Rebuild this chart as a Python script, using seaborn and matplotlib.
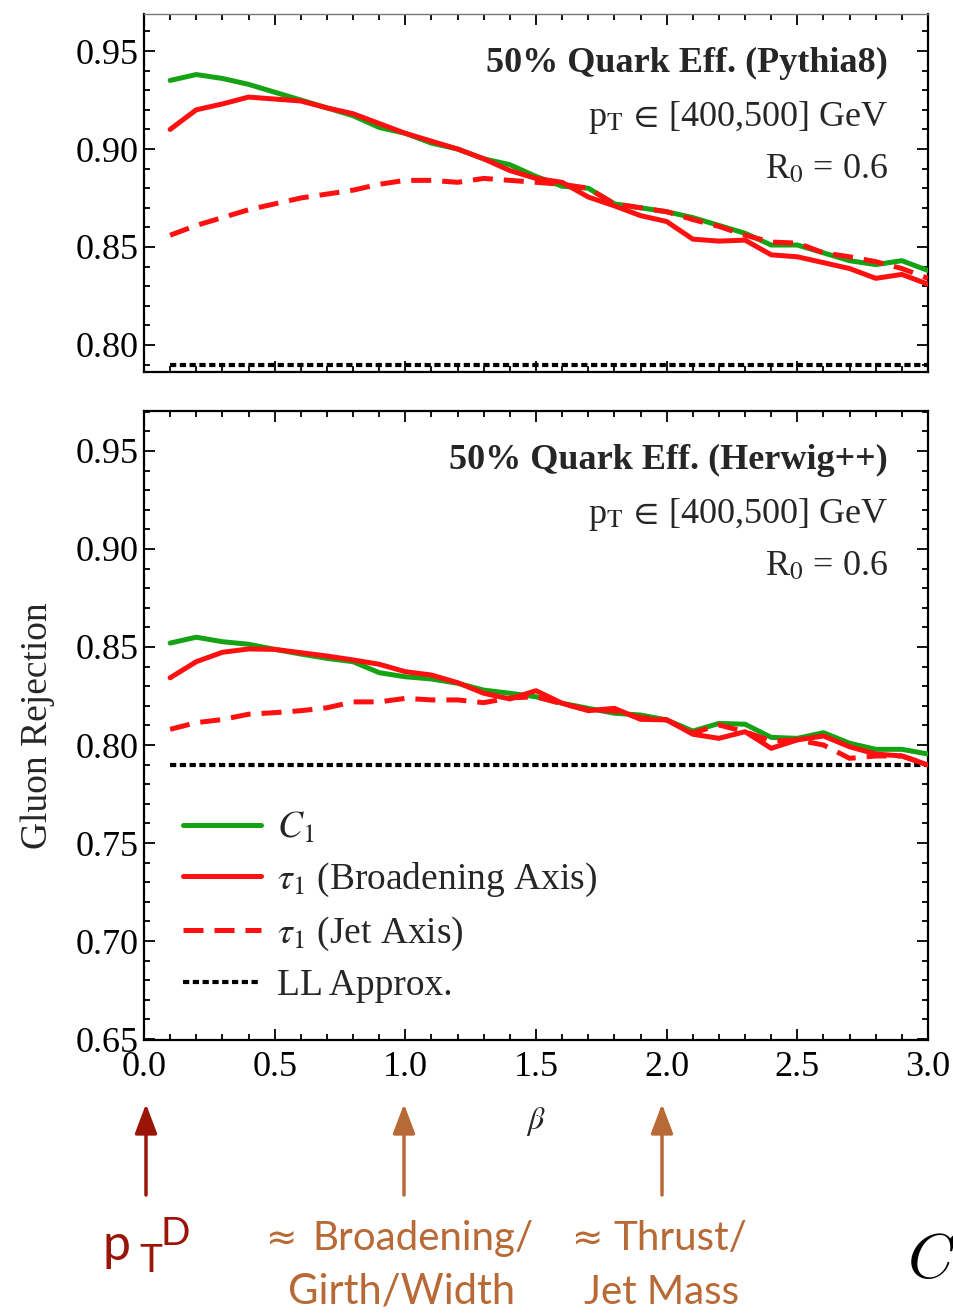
import numpy as np
import pandas as pd
import matplotlib
matplotlib.use("Agg")
import matplotlib.pyplot as plt
from matplotlib.patches import FancyArrowPatch
from matplotlib.ticker import MultipleLocator, FormatStrFormatter
import seaborn as sns

# ---------------------------------------------------------------- data
beta = [0.1, 0.2, 0.3, 0.4, 0.5, 0.6, 0.7, 0.8, 0.9, 1.0,
        1.1, 1.2, 1.3, 1.4, 1.5, 1.6, 1.7, 1.8, 1.9, 2.0,
        2.1, 2.2, 2.3, 2.4, 2.5, 2.6, 2.7, 2.8, 2.9, 3.0]

# Pythia8
c1_pythia = [0.935, 0.938, 0.936, 0.933, 0.929, 0.925, 0.921, 0.917, 0.911, 0.908,
             0.903, 0.900, 0.895, 0.892, 0.886, 0.881, 0.880, 0.872, 0.870, 0.868,
             0.865, 0.861, 0.857, 0.851, 0.851, 0.847, 0.843, 0.841, 0.843, 0.838]
tau_bro_pythia = [0.910, 0.920, 0.923, 0.9265, 0.9255, 0.9245, 0.921, 0.918, 0.913, 0.908,
                  0.904, 0.900, 0.895, 0.889, 0.885, 0.883, 0.8755, 0.871, 0.866, 0.863,
                  0.854, 0.853, 0.8535, 0.846, 0.845, 0.842, 0.839, 0.834, 0.836, 0.831]
tau_jet_pythia = [0.856, 0.861, 0.865, 0.869, 0.872, 0.875, 0.877, 0.879, 0.882, 0.884,
                  0.884, 0.883, 0.885, 0.884, 0.883, 0.882, 0.880, 0.872, 0.870, 0.868,
                  0.864, 0.8605, 0.856, 0.8525, 0.852, 0.847, 0.845, 0.8425, 0.839, 0.834]

# Herwig++
c1_herwig = [0.852, 0.855, 0.8527, 0.8514, 0.8488, 0.8464, 0.8442, 0.8425, 0.8369, 0.8348,
             0.8337, 0.8315, 0.828, 0.8264, 0.8246, 0.8213, 0.8187, 0.8162, 0.8153, 0.8128,
             0.8071, 0.811, 0.8106, 0.8039, 0.8034, 0.8063, 0.8009, 0.7978, 0.7978, 0.7954]
tau_bro_herwig = [0.8343, 0.8425, 0.8473, 0.849, 0.8488, 0.8471, 0.8454, 0.8434, 0.8412, 0.8374,
                  0.8357, 0.8318, 0.8264, 0.8235, 0.8277, 0.8213, 0.8175, 0.8187, 0.8131, 0.8128,
                  0.8055, 0.8034, 0.8068, 0.7983, 0.8026, 0.8046, 0.7991, 0.7954, 0.7944, 0.7898]
tau_jet_herwig = [0.808, 0.8114, 0.813, 0.8157, 0.8165, 0.8175, 0.819, 0.822, 0.822, 0.8238,
                  0.823, 0.823, 0.8216, 0.824, 0.8246, 0.821, 0.818, 0.8174, 0.814, 0.8128,
                  0.8061, 0.8102, 0.8068, 0.802, 0.8026, 0.800, 0.7932, 0.7944, 0.7944, 0.790]

ll_approx = 0.79

series_labels = [r"$C_1$", r"$\tau_1$ (Broadening Axis)", r"$\tau_1$ (Jet Axis)", "LL Approx."]
panel_titles = ["50% Quark Eff. (Pythia8)", "50% Quark Eff. (Herwig++)"]
pt_label = r"p$_\mathrm{T}$ $\!\in\!$ [400,500] GeV"
r0_label = r"R$_0$ = 0.6"
x_ticks = [0.0, 0.5, 1.0, 1.5, 2.0, 2.5, 3.0]
y_ticks_top = [0.80, 0.85, 0.90, 0.95]
y_ticks_bottom = [0.65, 0.70, 0.75, 0.80, 0.85, 0.90, 0.95]

# ---------------------------------------------------------------- style
sns.set_style("ticks")
plt.rcParams["font.family"] = ["Liberation Serif", "DejaVu Serif"]
plt.rcParams["mathtext.fontset"] = "stix"

GREEN = "#15a215"
RED = "#ff1010"
DARKRED = "#9a1408"
ORANGE = "#b86a36"
TICK_SIZE = 26
TEXT_SIZE = 26

W, H = 954, 1315
fig = plt.figure(figsize=(W / 100, H / 100), dpi=100)


def fig_axes(left, top, right, bottom):
    return fig.add_axes([left / W, 1 - bottom / H, (right - left) / W, (bottom - top) / H])


ax_top = fig_axes(144, 14, 928, 372)
ax_bot = fig_axes(144, 411, 928, 1040)


def draw_panel(ax, c1, tbro, tjet):
    df = pd.DataFrame({"beta": beta, "c1": c1, "tbro": tbro, "tjet": tjet,
                       "ll": [ll_approx] * len(beta)})
    sns.lineplot(data=df, x="beta", y="ll", ax=ax, color="black", lw=3.0,
                 linestyle=(0, (1.5, 0.85)), label=series_labels[3], zorder=2)
    sns.lineplot(data=df, x="beta", y="c1", ax=ax, color=GREEN, lw=3.6,
                 label=series_labels[0], zorder=3)
    sns.lineplot(data=df, x="beta", y="tbro", ax=ax, color=RED, lw=3.6,
                 label=series_labels[1], zorder=4)
    sns.lineplot(data=df, x="beta", y="tjet", ax=ax, color=RED, lw=3.6,
                 linestyle=(0, (4, 2.2)), label=series_labels[2], zorder=4)
    ax.set_xlim(0, 3)
    ax.xaxis.set_major_locator(MultipleLocator(0.5))
    ax.xaxis.set_minor_locator(MultipleLocator(0.1))
    ax.yaxis.set_major_locator(MultipleLocator(0.05))
    ax.yaxis.set_minor_locator(MultipleLocator(0.01))
    ax.yaxis.set_major_formatter(FormatStrFormatter("%.2f"))
    ax.xaxis.set_major_formatter(FormatStrFormatter("%.1f"))
    ax.tick_params(which="both", direction="in", top=True, right=True,
                   labelsize=TICK_SIZE, width=1.3, colors="black")
    ax.tick_params(which="major", length=8, pad=4)
    ax.tick_params(which="minor", length=4.3)
    for s in ax.spines.values():
        s.set_linewidth(1.6)
        s.set_color("black")
    ax.set_xlabel("")
    ax.set_ylabel("")


draw_panel(ax_top, c1_pythia, tau_bro_pythia, tau_jet_pythia)
draw_panel(ax_bot, c1_herwig, tau_bro_herwig, tau_jet_herwig)

ax_top.set_ylim(0.7862, 0.9689)
ax_top.set_yticks(y_ticks_top)
ax_top.yaxis.set_minor_locator(MultipleLocator(0.01))
ax_top.tick_params(labelbottom=False)
ax_top.get_legend().remove()
ax_top.spines["top"].set_color("#777777")
ax_top.spines["top"].set_linewidth(1.0)

ax_bot.set_ylim(0.6495, 0.9704)
ax_bot.set_yticks(y_ticks_bottom)
ax_bot.yaxis.set_minor_locator(MultipleLocator(0.01))
ax_bot.set_xticks(x_ticks)
ax_bot.tick_params(axis="x", which="major", pad=8)

ax_bot.set_ylabel("Gluon Rejection", fontsize=27)
ax_bot.yaxis.set_label_coords(-0.1136, 0.5)
ax_bot.set_xlabel(r"$\beta$", fontsize=23)
ax_bot.xaxis.set_label_coords(0.5, -0.104)

# legend in the order of the series list
handles, labels = ax_bot.get_legend_handles_labels()
order = [labels.index(l) for l in series_labels]
ax_bot.get_legend().remove()
ax_bot.legend([handles[i] for i in order], [labels[i] for i in order],
              loc="upper left", bbox_to_anchor=(0.05, 0.3645), frameon=False,
              fontsize=27, handlelength=2.08, handletextpad=0.42,
              labelspacing=0.41, borderaxespad=0, borderpad=0)

# panel annotations
for ax, title in [(ax_top, panel_titles[0]), (ax_bot, panel_titles[1])]:
    kw = dict(xycoords="axes fraction", textcoords="offset pixels", ha="right",
              va="baseline", xy=(0.949, 1.0))
    ax.annotate(title, xytext=(0, -58), fontsize=TEXT_SIZE, fontweight="bold", **kw)
    ax.annotate(pt_label, xytext=(0, -112), fontsize=TEXT_SIZE, **kw)
    ax.annotate(r0_label, xytext=(0, -164), fontsize=TEXT_SIZE, **kw)

# arrows and captions below the axis


def fx(x):
    return x / W


def fy(y):
    return 1 - y / H


for x, col in [(146, DARKRED), (404, ORANGE), (662, ORANGE)]:
    arr = FancyArrowPatch((fx(x), fy(1195)), (fx(x), fy(1104)),
                          transform=fig.transFigure,
                          arrowstyle="-|>,head_length=0.9,head_width=0.34",
                          mutation_scale=20, lw=2.5, color=col,
                          shrinkA=0, shrinkB=0)
    fig.add_artist(arr)

cap_font = ["Lato", "DejaVu Sans"]
fig.text(fx(103), fy(1260), "p", color=DARKRED, fontsize=36, family=cap_font,
         va="baseline", ha="left")
fig.text(fx(139), fy(1272), "T", color=DARKRED, fontsize=28, family=cap_font,
         va="baseline", ha="left")
fig.text(fx(161), fy(1245), "D", color=DARKRED, fontsize=28, family=cap_font,
         va="baseline", ha="left")

CAP = 29
approx_kw = dict(color=ORANGE, fontsize=27, family="DejaVu Sans",
                 va="baseline", ha="center")
cap_kw = dict(color=ORANGE, fontsize=CAP, family=cap_font, va="baseline")
fig.text(fx(281), fy(1250), "\u2248", **approx_kw)
fig.text(fx(312), fy(1250), "Broadening/", ha="left", **cap_kw)
fig.text(fx(402), fy(1304), "Girth/Width", ha="center", color=ORANGE,
         fontsize=30, family=cap_font, va="baseline")
fig.text(fx(587), fy(1250), "\u2248", **approx_kw)
fig.text(fx(613), fy(1250), "Thrust/", ha="left", **cap_kw)
fig.text(fx(662), fy(1304), "Jet Mass", ha="center", **cap_kw)

fig.text(fx(908), fy(1278), "C", color="black", fontsize=46, family="cmmi10",
         va="baseline", ha="left")

fig.savefig("out.png", dpi=100)
